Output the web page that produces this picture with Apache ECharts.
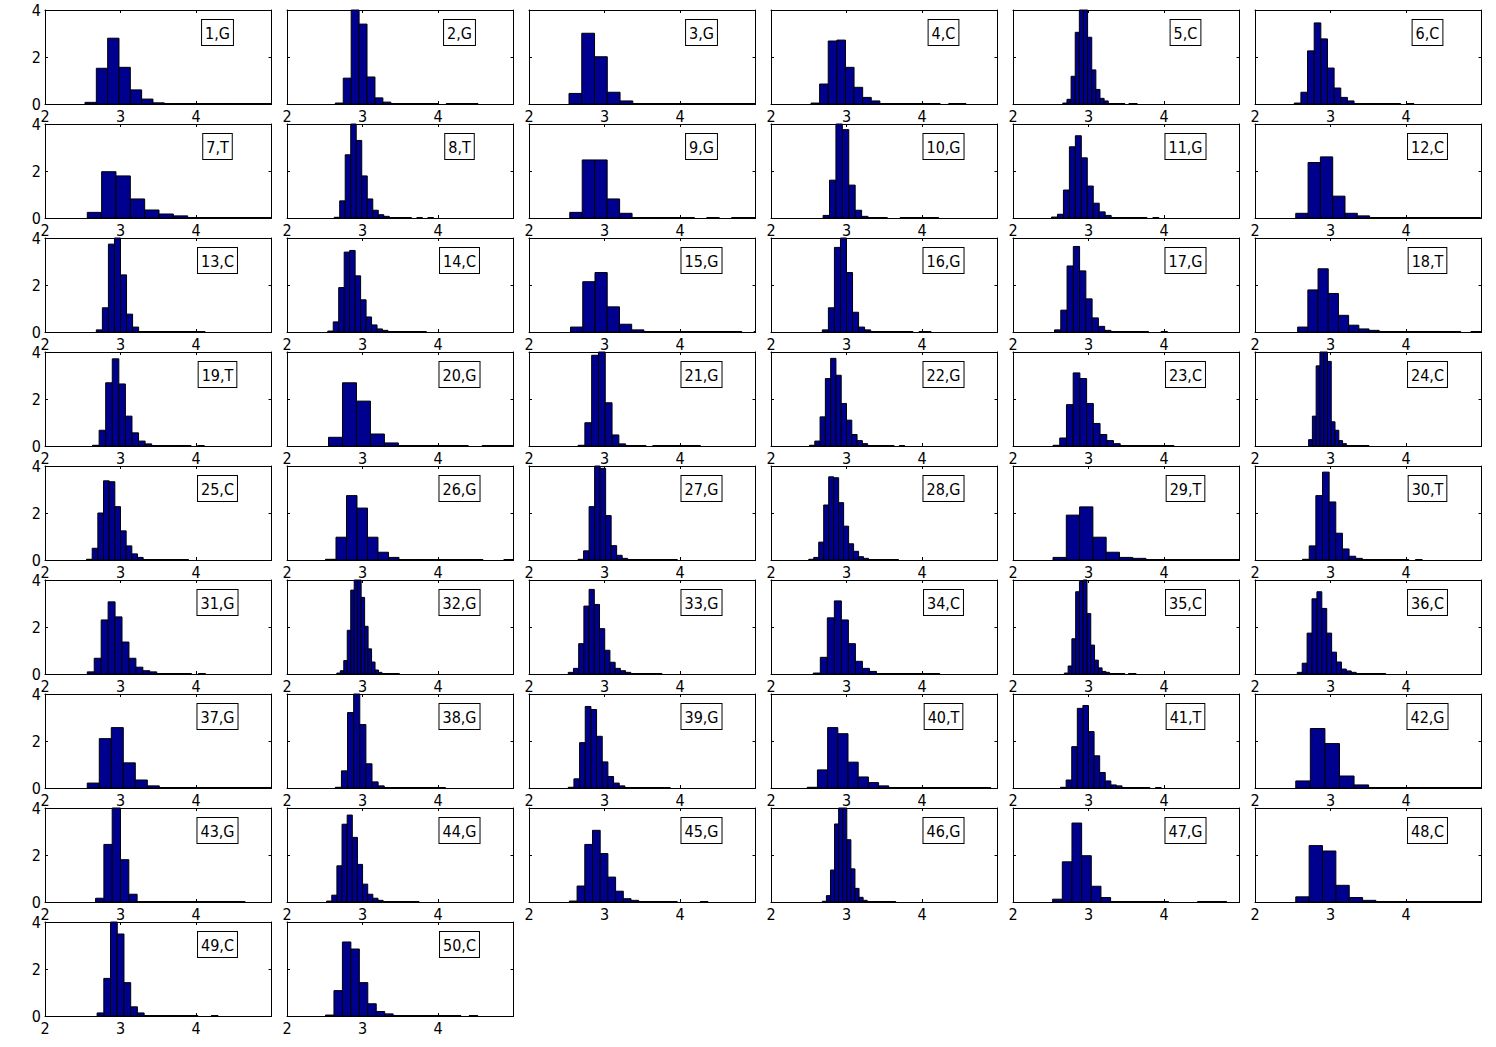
<!DOCTYPE html>
<html>
<head>
<meta charset="utf-8">
<script src="https://cdn.jsdelivr.net/npm/echarts@6/dist/echarts.min.js"></script>
<style>
html,body{margin:0;padding:0;background:#fff;}
#chart{width:1496px;height:1047px;}
</style>
</head>
<body>
<div id="chart"></div>
<script>
// ---- data ----
const labels = ['1,G','2,G','3,G','4,C','5,C','6,C','7,T','8,T','9,G','10,G','11,G','12,C','13,C','14,C','15,G','16,G','17,G','18,T','19,T','20,G','21,G','22,G','23,C','24,C','25,C','26,G','27,G','28,G','29,T','30,T','31,G','32,G','33,G','34,C','35,C','36,C','37,G','38,G','39,G','40,T','41,T','42,G','43,G','44,G','45,G','46,G','47,G','48,C','49,C','50,C'];

const binStart = [2.53,2.64,2.53,2.53,2.66,2.52,2.56,2.625,2.54,2.69,2.51,2.54,2.68,2.54,2.55,2.68,2.55,2.565,2.63,2.55,2.65,2.51,2.53,2.71,2.55,2.51,2.65,2.50,2.53,2.63,2.56,2.66,2.52,2.56,2.68,2.56,2.56,2.64,2.52,2.48,2.63,2.54,2.67,2.525,2.535,2.68,2.525,2.54,2.69,2.51];

const binWidth = [0.15,0.105,0.169,0.114,0.0547,0.088,0.19,0.073,0.165,0.085,0.079,0.163,0.08,0.0725,0.162,0.08,0.083,0.135,0.087,0.185,0.09,0.07,0.089,0.05,0.075,0.139,0.073,0.066,0.176,0.088,0.092,0.046,0.069,0.093,0.05,0.065,0.159,0.081,0.075,0.135,0.074,0.193,0.11,0.068,0.102,0.054,0.128,0.177,0.089,0.112];

const density = [
  [0.07,1.52,2.8,1.56,0.6,0.21,0.05,0.02,0.02,0.02,0.02,0.02,0.02,0.02,0.02,0.02,0.02],
  [0.04,1.1,4.3,3.4,1.15,0.26,0.08,0.02,0.02,0.02,0.02,0.02,0.02,0,0.02,0.02,0.02,0.02],
  [0.45,3.01,2.01,0.5,0.13,0.02,0.02,0.02,0.02,0.02,0.02,0.02,0.02,0.02,0.02],
  [0.04,0.85,2.68,2.72,1.56,0.71,0.28,0.13,0.02,0.02,0.02,0.02,0.02,0.02,0.02,0,0.02,0.02],
  [0.04,0.2,1.18,3.05,4.3,4.2,2.84,1.45,0.62,0.24,0.13,0.02,0.02,0.02,0.02,0,0.02,0.02],
  [0.04,0.5,2.26,3.45,2.77,1.53,0.68,0.28,0.13,0.02,0.02,0.02,0.02,0.02,0.02,0.02,0,0.02],
  [0.24,1.97,1.79,0.81,0.34,0.17,0.09,0.02,0.02,0.02,0.02,0.02,0.02],
  [0.03,0.73,2.69,4.2,3.3,1.79,0.81,0.33,0.14,0.07,0.02,0.02,0.02,0.02,0,0.02,0,0.02],
  [0.24,2.47,2.47,0.81,0.2,0.02,0.02,0.02,0.02,0.02,0,0.02,0,0.02,0.02],
  [0.11,1.61,4.2,3.76,1.4,0.33,0.07,0.02,0.02,0.02,0,0,0.02,0.02,0.02,0.02,0.02,0.02],
  [0.04,0.16,1.19,3.03,3.5,2.56,1.36,0.63,0.26,0.11,0.02,0.02,0.02,0.02,0.02,0.02,0,0.02],
  [0.2,2.36,2.6,0.93,0.2,0.09,0.02,0.02,0.02,0.02,0.02,0.02,0.02,0.02,0.02],
  [0.09,1.03,3.74,4.1,2.43,0.76,0.21,0.02,0.02,0.02,0.02,0.02,0.02,0.02,0.02,0.02,0.02,0.02],
  [0.04,0.43,1.89,3.4,3.47,2.39,1.37,0.64,0.3,0.13,0.07,0.02,0.02,0.02,0.02,0.02,0.02,0.02],
  [0.21,2.14,2.53,1.07,0.33,0.09,0.02,0.02,0.02,0.02,0.02,0.02,0.02,0.02,0,0.02],
  [0.09,1.03,3.6,4.1,2.53,0.84,0.21,0.09,0.02,0.02,0.02,0.02,0.02,0.02,0.02,0,0.02,0.02],
  [0.09,0.93,2.81,3.64,2.6,1.41,0.6,0.24,0.07,0.02,0.02,0.02,0.02,0.02,0.02,0,0,0.02],
  [0.21,1.79,2.69,1.64,0.71,0.29,0.13,0.07,0.02,0.02,0.02,0.02,0.02,0.02,0.02,0.02,0,0.02],
  [0.03,0.67,2.69,3.71,2.64,1.27,0.56,0.21,0.09,0.02,0.02,0.02,0.02,0.02,0.02,0,0.02],
  [0.37,2.69,1.91,0.51,0.13,0.02,0.02,0.02,0.02,0.02,0,0.02,0.02,0.02],
  [0.03,0.99,3.86,4.2,1.84,0.47,0.09,0.02,0.02,0.02,0,0.02,0.02,0.02,0.02,0.02,0.02,0.02],
  [0.03,0.21,1.24,2.87,3.73,3.01,1.81,1.1,0.49,0.23,0.1,0.02,0.02,0.02,0.02,0.02,0,0.02],
  [0.03,0.34,1.76,3.11,2.87,1.81,0.96,0.49,0.23,0.1,0.02,0.02,0.02,0.02,0.02,0.02,0.02,0.02],
  [0.27,1.27,3.41,4.2,4.1,3.6,1.03,0.67,0.23,0.1,0.02,0.02,0.02,0.02,0.02,0.02],
  [0.03,0.5,2.0,3.37,3.33,2.27,1.24,0.6,0.26,0.11,0.02,0.02,0.02,0.02,0.02,0.02,0.02,0.02],
  [0.03,0.97,2.74,2.21,0.97,0.33,0.11,0.02,0.02,0.02,0.02,0.02,0.02,0.02,0.02,0,0,0.02],
  [0.03,0.39,2.27,4.2,3.9,1.89,0.61,0.2,0.07,0.02,0.02,0.02,0.02,0.02,0.02,0.02,0.02,0.02],
  [0.03,0.11,0.76,2.34,3.54,3.5,2.44,1.44,0.69,0.37,0.14,0.07,0.02,0.02,0.02,0.02,0.02,0.02],
  [0.11,1.91,2.26,0.97,0.33,0.11,0.07,0.02,0.02,0.02,0.02,0.02,0.02,0.02],
  [0.03,0.6,2.74,3.74,2.47,1.14,0.47,0.16,0.07,0.02,0.02,0.02,0.02,0.02,0.02,0.02,0,0.02],
  [0.09,0.67,2.3,3.07,2.43,1.36,0.67,0.29,0.14,0.09,0.02,0.02,0.02,0.02,0.02,0,0.02],
  [0.04,0.14,0.57,1.86,3.57,4.1,4.0,3.26,2.03,1.07,0.51,0.17,0.07,0.02,0.02,0.02,0.02,0.02],
  [0.07,0.24,1.29,2.89,3.6,2.96,1.93,1.01,0.5,0.24,0.14,0.07,0.02,0.02,0.02,0.02,0.02,0.02],
  [0.04,0.71,2.39,3.11,2.3,1.29,0.54,0.24,0.11,0.02,0.02,0.02,0.02,0.02,0.02,0.02,0.02,0.02],
  [0.04,0.34,1.5,3.5,3.94,4.2,2.57,1.23,0.59,0.26,0.11,0.07,0.02,0.02,0.02,0.02,0,0.02,0.02],
  [0.07,0.46,1.74,3.2,3.5,2.79,1.74,0.93,0.51,0.21,0.13,0.07,0.02,0.02,0.02,0.02,0.02,0.02],
  [0.21,2.1,2.57,1.07,0.34,0.09,0.02,0.02,0.02,0.02,0.02,0.02,0.02,0.02,0.02,0.02],
  [0.03,0.73,3.21,4.2,2.7,1.03,0.26,0.09,0.02,0.02,0.02,0.02,0.02,0.02,0.02,0.02,0.02,0.02],
  [0.03,0.39,1.93,3.47,3.34,2.2,1.11,0.49,0.21,0.09,0.02,0.02,0.02,0.02,0.02,0.02,0.02,0.02],
  [0.03,0.77,2.57,2.31,1.1,0.47,0.23,0.09,0.02,0.02,0.02,0.02,0.02,0.02,0.02,0.02,0.02,0.02],
  [0.03,0.34,1.76,3.39,3.51,2.4,1.37,0.66,0.3,0.13,0.09,0.02,0.02,0.02,0.02,0.02,0,0.02],
  [0.3,2.53,1.89,0.51,0.13,0.02,0.02,0.02,0.02,0.02,0.02,0.02,0.02],
  [0.16,2.45,4.1,1.8,0.33,0.02,0.02,0.02,0.02,0.02,0.02,0.02,0.02,0.02,0.02,0.02,0.02,0.02],
  [0.04,0.29,1.54,3.31,3.7,2.75,1.6,0.76,0.33,0.16,0.07,0.02,0.02,0.02,0.02,0.02,0.02,0.02],
  [0.04,0.68,2.45,3.05,2.06,1.06,0.46,0.14,0.07,0.02,0.02,0.02,0.02,0.02,0,0,0,0.02],
  [0.03,0.27,1.36,3.32,4.2,4.1,2.65,1.41,0.58,0.2,0.07,0.02,0.02,0.02,0.02,0.02,0.02,0.02],
  [0.12,1.71,3.36,1.97,0.67,0.19,0.02,0.02,0.02,0.02,0.02,0.02,0,0,0,0.02,0.02,0.02],
  [0.22,2.4,2.17,0.71,0.19,0.07,0.02,0.02,0.02,0.02,0.02,0.02,0.02,0.02],
  [0.13,1.6,4.1,3.49,1.42,0.39,0.13,0.02,0.02,0.02,0.02,0.02,0.02,0.02,0.02,0,0,0.02],
  [0.04,1.08,3.15,2.85,1.42,0.52,0.19,0.09,0.02,0.02,0.02,0.02,0.02,0.02,0.02,0.02,0,0.02]
];

const xTicks = [2, 3, 4];
const yTicks = [0, 2, 4];

// ---- layout ----
const COLS = 6;
const colLeft0 = 45, colStep = 242, plotW = 226.5;
const rowTop0 = 10, rowStep = 114, plotH = 94;
const FONT = "'Liberation Sans Narrow', 'DejaVu Sans Condensed', 'Liberation Sans', Arial, sans-serif";
const BAR = '#00008F';

const grid = [], xAxis = [], yAxis = [], series = [], graphics = [];

labels.forEach((lab, i) => {
  const c = i % COLS, r = Math.floor(i / COLS);
  const left = colLeft0 + c * colStep, top = rowTop0 + r * rowStep;
  grid.push({left: left, top: top, width: plotW, height: plotH, containLabel: false, show: false});

  const tickStyle = {show: true, inside: true, length: 3, lineStyle: {color: '#000', width: 1}};
  const lineStyle = {show: true, onZero: false, lineStyle: {color: '#000', width: 1}};
  xAxis.push({
    type: 'value', gridIndex: i, min: 2, max: 5, interval: 1, position: 'bottom',
    axisLine: lineStyle, axisTick: tickStyle, splitLine: {show: false},
    axisLabel: {show: true, margin: 4, color: '#000', fontFamily: FONT, fontSize: 16,
      showMaxLabel: false, formatter: v => xTicks.indexOf(v) >= 0 ? String(v) : ''}
  });
  xAxis.push({
    type: 'value', gridIndex: i, min: 2, max: 5, interval: 1, position: 'top',
    axisLine: lineStyle, axisTick: tickStyle, splitLine: {show: false}, axisLabel: {show: false}
  });
  yAxis.push({
    type: 'value', gridIndex: i, min: 0, max: 4, interval: 2, position: 'left',
    axisLine: lineStyle, axisTick: tickStyle, splitLine: {show: false},
    axisLabel: {show: c === 0, margin: 4, color: '#000', fontFamily: FONT, fontSize: 16,
      formatter: v => yTicks.indexOf(v) >= 0 ? String(v) : ''}
  });
  yAxis.push({
    type: 'value', gridIndex: i, min: 0, max: 4, interval: 2, position: 'right',
    axisLine: lineStyle, axisTick: tickStyle, splitLine: {show: false}, axisLabel: {show: false}
  });

  const x0 = binStart[i], w = binWidth[i];
  const data = density[i].map((h, k) => [x0 + k * w, x0 + (k + 1) * w, h]);
  series.push({
    type: 'custom', xAxisIndex: 2 * i, yAxisIndex: 2 * i,
    dimensions: ['from', 'to', 'density'],
    encode: {x: [0, 1], y: 2},
    data: data,
    silent: true,
    renderItem: (params, api) => {
      const h = api.value(2);
      if (!(h > 0)) return null;
      const cs = params.coordSys;
      const a = api.coord([api.value(0), 0]);
      const b = api.coord([api.value(1), h]);
      const x1 = Math.max(a[0], cs.x), x2 = Math.min(b[0], cs.x + cs.width);
      if (x2 <= x1) return null;
      const yTop = Math.max(b[1], cs.y);
      return {
        type: 'rect',
        shape: {x: x1, y: yTop, width: x2 - x1, height: a[1] - yTop},
        style: {fill: BAR, stroke: '#000', lineWidth: 1}
      };
    }
  });

  graphics.push({
    type: 'text', x: left + 172.5, y: top + 10, z: 100,
    style: {
      text: lab, fill: '#000', fontSize: 16, fontFamily: FONT,
      align: 'center', verticalAlign: 'top',
      backgroundColor: '#fff', borderColor: '#000', borderWidth: 1,
      padding: [5, 3, 4, 3]
    }
  });
});

const chart = echarts.init(document.getElementById('chart'), null, {renderer: 'svg'});
chart.setOption({
  animation: false,
  backgroundColor: '#fff',
  grid: grid, xAxis: xAxis, yAxis: yAxis, series: series,
  graphic: {elements: graphics}
});
</script>
</body>
</html>
